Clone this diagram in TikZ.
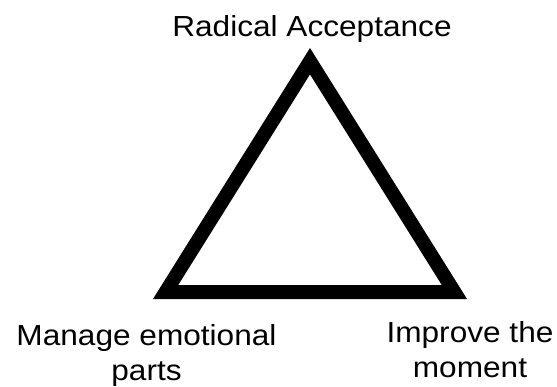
\documentclass[tikz,border=0pt]{standalone}
\usepackage{fontspec}
\setmainfont{Liberation Sans}
\tikzset{
  lbl/.style={anchor=base, inner sep=0pt, font=\fontsize{29}{35}\selectfont},
  tri/.style={line width=14pt, line join=miter, miter limit=10}
}
\newcommand{\widetxt}[1]{\scalebox{1.09}[1]{#1}}
\begin{document}
\begin{tikzpicture}[x=1pt,y=1pt]
\useasboundingbox (0,0) rectangle (557,386);
\coordinate (A) at (310,324.8);
\coordinate (B) at (165.6,94);
\coordinate (C) at (454.4,94);
\draw[tri] (A) -- (B) -- (C) -- cycle;
\node[lbl] (top) at (312,349) {\widetxt{Radical Acceptance}};
\node[lbl] (l1) at (146.5,41) {\widetxt{Manage emotional}};
\node[lbl] (l2) at (146.5,6) {\widetxt{parts}};
\node[lbl] (r1) at (470,44) {\widetxt{Improve the}};
\node[lbl] (r2) at (470,9) {\widetxt{moment}};
\end{tikzpicture}
\end{document}
